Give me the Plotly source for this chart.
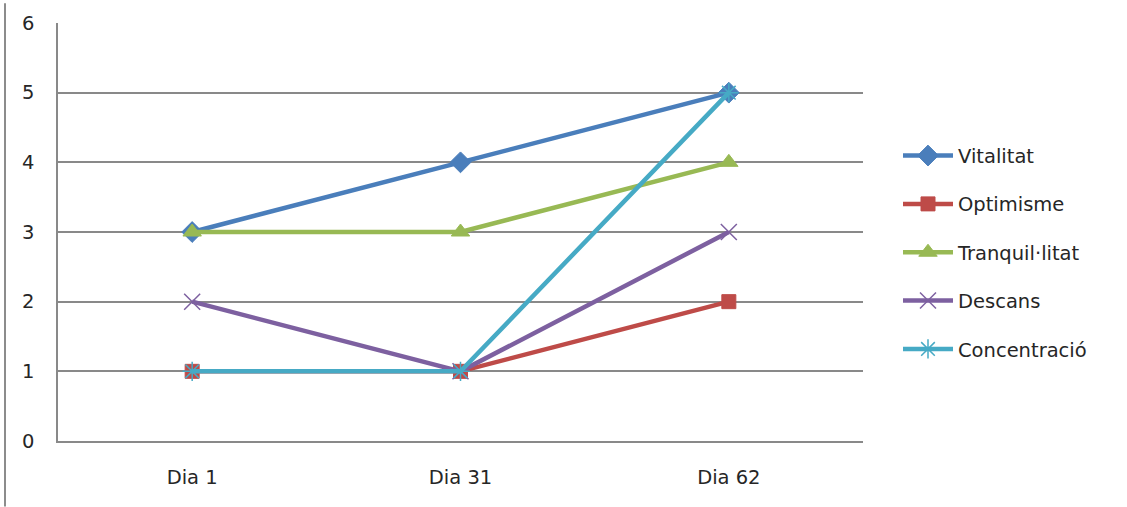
import plotly.graph_objects as go

# Data
days = ["Dia 1", "Dia 31", "Dia 62"]
vitalitat = [3, 4, 5]
optimisme = [1, 1, 2]
tranquillitat = [3, 3, 4]
descans = [2, 1, 3]
concentracio = [1, 1, 5]

series = [
    ("Vitalitat", vitalitat, "#4A7EBB", "diamond", 16, 1),
    ("Optimisme", optimisme, "#BE4B48", "square", 14, 1),
    ("Tranquil·litat", tranquillitat, "#98B954", "triangle-up", 16, 1),
    ("Descans", descans, "#7D60A0", "x-thin-open", 16, 1.5),
    ("Concentració", concentracio, "#46AAC5", "asterisk-open", 16, 1.5),
]

W, H = 1127, 507
L, R, T, B = 58, 264, 20, 66
plot_w = W - L - R
plot_h = H - T - B

fig = go.Figure()
for i, (name, vals, color, symbol, msize, mlw) in enumerate(series):
    fig.add_trace(go.Scatter(
        x=days, y=vals, name=name, mode="lines+markers",
        legendgroup=f"g{i}",
        line=dict(color=color, width=4.5),
        marker=dict(symbol=symbol, size=msize, color=color,
                    line=dict(color=color, width=mlw)),
    ))

font = dict(family="DejaVu Sans", size=19.5, color="#262626")

# Thin frame line along the left edge of the chart area
fig.add_shape(type="line", xref="paper", yref="paper",
              x0=(5 - L) / plot_w, x1=(5 - L) / plot_w,
              y0=(H - B - H) / plot_h, y1=(H - B) / plot_h,
              line=dict(color="#8C8C8C", width=2))

fig.update_layout(
    width=W, height=H,
    margin=dict(l=L, r=R, t=T, b=B, pad=0),
    paper_bgcolor="white", plot_bgcolor="white",
    font=font,
    showlegend=True,
    legend=dict(
        x=(898 - L) / plot_w, xanchor="left",
        y=(H - B - 251) / plot_h, yanchor="middle",
        traceorder="grouped", tracegroupgap=20,
        itemwidth=50, font=font, bgcolor="rgba(0,0,0,0)",
    ),
    xaxis=dict(
        showgrid=False, showline=True, linecolor="#898989", linewidth=1.5,
        ticks="", ticklabelstandoff=18, tickfont=font,
        range=[-0.5, 2.5],
    ),
    yaxis=dict(
        range=[0, 6], dtick=1, showgrid=True, gridcolor="#898989", gridwidth=1.5,
        showline=True, linecolor="#898989", linewidth=1.5,
        zeroline=False, ticks="", ticklabelstandoff=18, tickfont=font,
    ),
)

fig.write_html("out.html")
